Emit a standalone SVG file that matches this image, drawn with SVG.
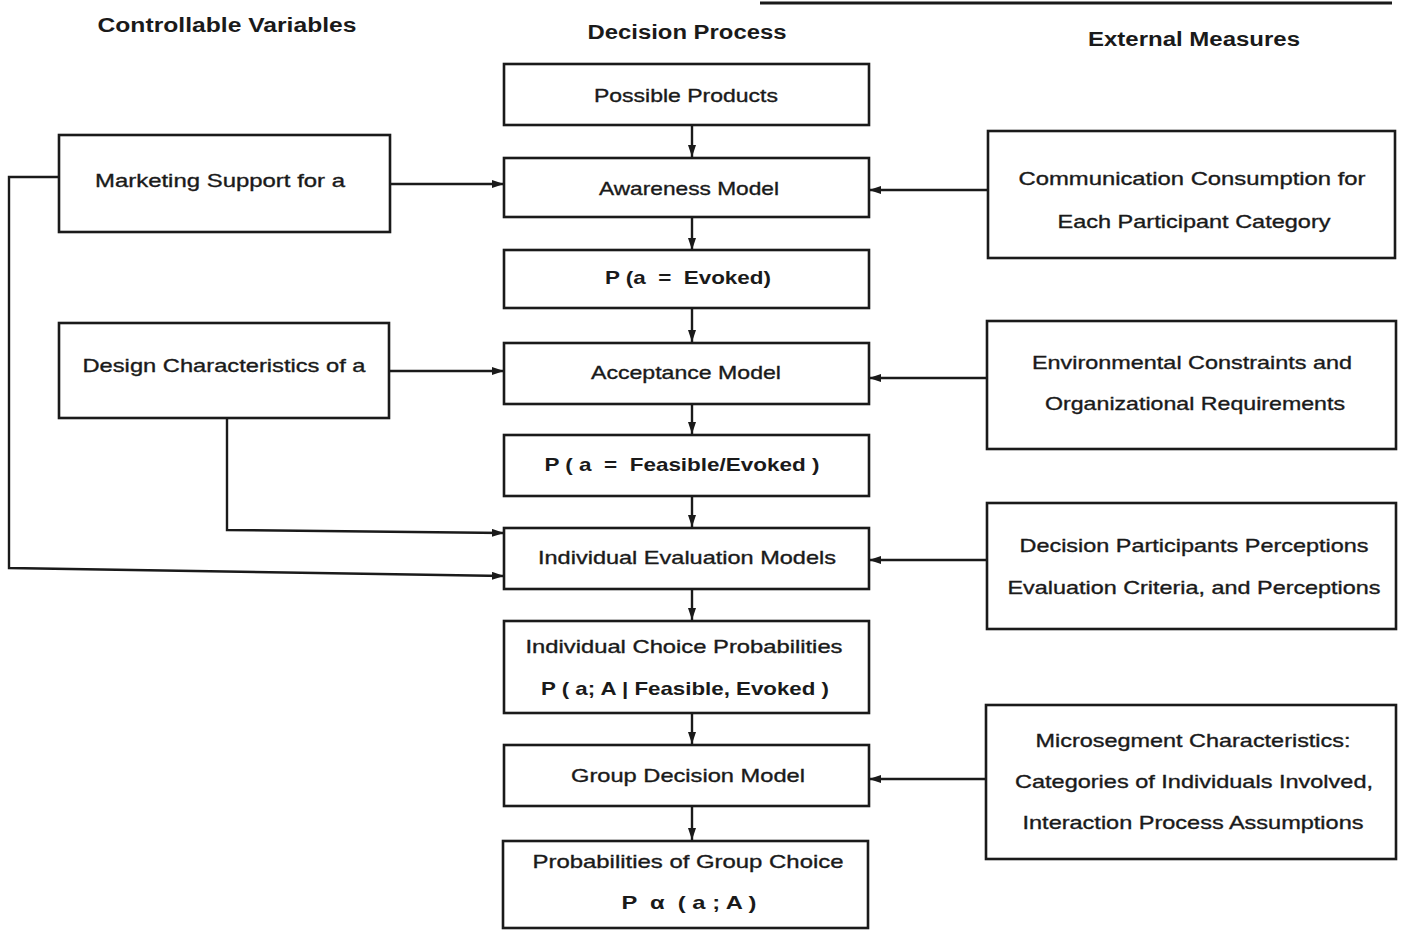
<svg xmlns="http://www.w3.org/2000/svg" width="1403" height="930" viewBox="0 0 1403 930">
<defs>
<marker id="ah" viewBox="0 0 12 8" refX="12" refY="4" markerWidth="12" markerHeight="8" markerUnits="userSpaceOnUse" orient="auto">
<path d="M0,0 L12,4 L0,8 Z" fill="#1a1a1a"/>
</marker>
<style>
.box{fill:#fff;stroke:#1a1a1a;stroke-width:2.6}
.t{font-family:"Liberation Sans",Arial,sans-serif;font-size:19px;fill:#1a1a1a;stroke:#1a1a1a;stroke-width:0.35;text-anchor:middle;white-space:pre}
.b{font-weight:bold;stroke-width:0}
.h{font-family:"Liberation Sans",Arial,sans-serif;font-size:20px;font-weight:bold;fill:#1a1a1a;text-anchor:middle}
.c{fill:none;stroke:#1a1a1a;stroke-width:2.4}
</style>
</defs>
<rect width="1403" height="930" fill="#fff"/>
<line x1="760" y1="3" x2="1392" y2="3" stroke="#1a1a1a" stroke-width="3"/>
<g id="headers">
<text class="h" x="227" y="32" textLength="259" lengthAdjust="spacingAndGlyphs">Controllable Variables</text>
<text class="h" x="687" y="39" textLength="199" lengthAdjust="spacingAndGlyphs">Decision Process</text>
<text class="h" x="1194" y="46" textLength="212" lengthAdjust="spacingAndGlyphs">External Measures</text>
</g>
<g id="connectors">
<line class="c" x1="692" y1="125" x2="692" y2="157" marker-end="url(#ah)"/>
<line class="c" x1="692" y1="217" x2="692" y2="250" marker-end="url(#ah)"/>
<line class="c" x1="692" y1="308" x2="692" y2="342" marker-end="url(#ah)"/>
<line class="c" x1="692" y1="404" x2="692" y2="434" marker-end="url(#ah)"/>
<line class="c" x1="692" y1="496" x2="692" y2="527" marker-end="url(#ah)"/>
<line class="c" x1="692" y1="589" x2="692" y2="620" marker-end="url(#ah)"/>
<line class="c" x1="692" y1="713" x2="692" y2="744" marker-end="url(#ah)"/>
<line class="c" x1="692" y1="806" x2="692" y2="840" marker-end="url(#ah)"/>
<line class="c" x1="390" y1="184" x2="504" y2="184" marker-end="url(#ah)"/>
<line class="c" x1="389" y1="371" x2="504" y2="371" marker-end="url(#ah)"/>
<polyline class="c" points="59,177 9,177 9,568 504,576" marker-end="url(#ah)"/>
<polyline class="c" points="227,418 227,530 504,533" marker-end="url(#ah)"/>
<line class="c" x1="988" y1="190" x2="869" y2="190" marker-end="url(#ah)"/>
<line class="c" x1="987" y1="378" x2="869" y2="378" marker-end="url(#ah)"/>
<line class="c" x1="987" y1="560" x2="869" y2="560" marker-end="url(#ah)"/>
<line class="c" x1="986" y1="779" x2="869" y2="779" marker-end="url(#ah)"/>
</g>
<g id="possible-products">
<rect class="box" x="504" y="64" width="365" height="61"/>
<text class="t" x="686" y="102" textLength="184" lengthAdjust="spacingAndGlyphs">Possible Products</text>
</g>
<g id="awareness-model">
<rect class="box" x="504" y="158" width="365" height="59"/>
<text class="t" x="689" y="195" textLength="180" lengthAdjust="spacingAndGlyphs">Awareness Model</text>
</g>
<g id="p-evoked">
<rect class="box" x="504" y="250" width="365" height="58"/>
<text class="t b" x="688" y="284" textLength="166" lengthAdjust="spacingAndGlyphs" xml:space="preserve">P (a  =  Evoked)</text>
</g>
<g id="acceptance-model">
<rect class="box" x="504" y="343" width="365" height="61"/>
<text class="t" x="686" y="379" textLength="190" lengthAdjust="spacingAndGlyphs">Acceptance Model</text>
</g>
<g id="p-feasible">
<rect class="box" x="504" y="435" width="365" height="61"/>
<text class="t b" x="682" y="471" textLength="275" lengthAdjust="spacingAndGlyphs" xml:space="preserve">P ( a  =  Feasible/Evoked )</text>
</g>
<g id="individual-evaluation">
<rect class="box" x="504" y="528" width="365" height="61"/>
<text class="t" x="687" y="564" textLength="298" lengthAdjust="spacingAndGlyphs">Individual Evaluation Models</text>
</g>
<g id="individual-choice">
<rect class="box" x="504" y="621" width="365" height="92"/>
<text class="t" x="684" y="653" textLength="317" lengthAdjust="spacingAndGlyphs">Individual Choice Probabilities</text>
<text class="t b" x="685" y="695" textLength="288" lengthAdjust="spacingAndGlyphs">P ( a; A | Feasible, Evoked )</text>
</g>
<g id="group-decision">
<rect class="box" x="504" y="745" width="365" height="61"/>
<text class="t" x="688" y="782" textLength="234" lengthAdjust="spacingAndGlyphs">Group Decision Model</text>
</g>
<g id="group-choice">
<rect class="box" x="503" y="841" width="365" height="87"/>
<text class="t" x="688" y="868" textLength="311" lengthAdjust="spacingAndGlyphs">Probabilities of Group Choice</text>
<text class="t b" x="689" y="909" textLength="135" lengthAdjust="spacingAndGlyphs" xml:space="preserve">P  α  ( a ; A )</text>
</g>
<g id="marketing-support">
<rect class="box" x="59" y="135" width="331" height="97"/>
<text class="t" x="220" y="187" textLength="250" lengthAdjust="spacingAndGlyphs">Marketing Support for a</text>
</g>
<g id="design-characteristics">
<rect class="box" x="59" y="323" width="330" height="95"/>
<text class="t" x="224" y="372" textLength="283" lengthAdjust="spacingAndGlyphs">Design Characteristics of a</text>
</g>
<g id="communication-consumption">
<rect class="box" x="988" y="131" width="407" height="127"/>
<text class="t" x="1192" y="185" textLength="347" lengthAdjust="spacingAndGlyphs">Communication Consumption for</text>
<text class="t" x="1194" y="228" textLength="273" lengthAdjust="spacingAndGlyphs">Each Participant Category</text>
</g>
<g id="environmental-constraints">
<rect class="box" x="987" y="321" width="409" height="128"/>
<text class="t" x="1192" y="369" textLength="320" lengthAdjust="spacingAndGlyphs">Environmental Constraints and</text>
<text class="t" x="1195" y="410" textLength="300" lengthAdjust="spacingAndGlyphs">Organizational Requirements</text>
</g>
<g id="decision-participants">
<rect class="box" x="987" y="503" width="409" height="126"/>
<text class="t" x="1194" y="552" textLength="349" lengthAdjust="spacingAndGlyphs">Decision Participants Perceptions</text>
<text class="t" x="1194" y="594" textLength="373" lengthAdjust="spacingAndGlyphs">Evaluation Criteria, and Perceptions</text>
</g>
<g id="microsegment">
<rect class="box" x="986" y="705" width="410" height="154"/>
<text class="t" x="1193" y="747" textLength="315" lengthAdjust="spacingAndGlyphs">Microsegment Characteristics:</text>
<text class="t" x="1194" y="788" textLength="358" lengthAdjust="spacingAndGlyphs">Categories of Individuals Involved,</text>
<text class="t" x="1193" y="829" textLength="341" lengthAdjust="spacingAndGlyphs">Interaction Process Assumptions</text>
</g>
</svg>
